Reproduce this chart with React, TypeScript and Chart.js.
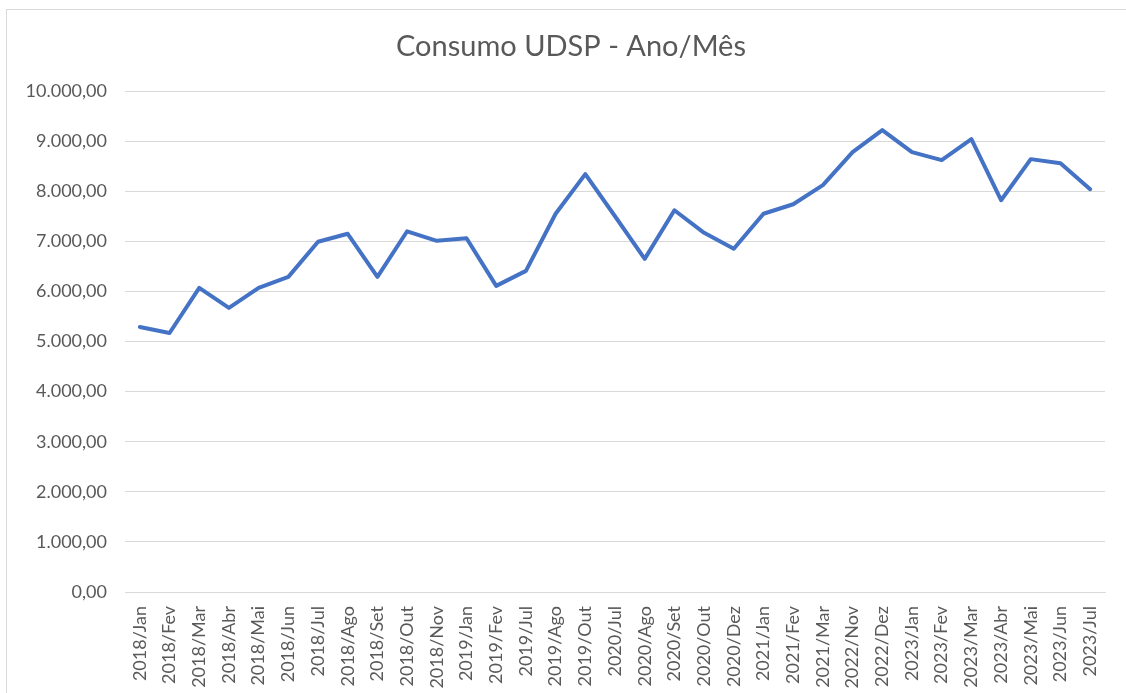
import { useEffect, useRef } from "react";
import { Chart, registerables } from "chart.js";

Chart.register(...registerables);

const categories = [
  "2018/Jan", "2018/Fev", "2018/Mar", "2018/Abr", "2018/Mai", "2018/Jun",
  "2018/Jul", "2018/Ago", "2018/Set", "2018/Out", "2018/Nov", "2019/Jan",
  "2019/Fev", "2019/Jul", "2019/Ago", "2019/Out", "2020/Jul", "2020/Ago",
  "2020/Set", "2020/Out", "2020/Dez", "2021/Jan", "2021/Fev", "2021/Mar",
  "2022/Nov", "2022/Dez", "2023/Jan", "2023/Fev", "2023/Mar", "2023/Abr",
  "2023/Mai", "2023/Jun", "2023/Jul",
];

const consumo = [
  5290, 5170, 6070, 5670, 6070, 6290,
  6990, 7150, 6290, 7200, 7010, 7060,
  6110, 6410, 7550, 8340, 7500, 6650,
  7620, 7170, 6850, 7550, 7740, 8120,
  8780, 9220, 8780, 8620, 9040, 7820,
  8640, 8560, 8040,
];

const yMin = 0;
const yMax = 10000;
const yStep = 1000;

const titleText = "Consumo UDSP - Ano/Mês";

function formatBR(v: number): string {
  const fixed = Math.abs(v).toFixed(2);
  const [intPart, dec] = fixed.split(".");
  const withDots = intPart.replace(/\B(?=(\d{3})+(?!\d))/g, ".");
  return (v < 0 ? "-" : "") + withDots + "," + dec;
}

const FONT = "Lato, 'Noto Sans', sans-serif";
const TEXT = "#595959";
const GRID = "#d9d9d9";

const titlePlugin = {
  id: "excelTitle",
  afterDraw(chart: any) {
    const ctx = chart.ctx;
    ctx.save();
    ctx.fillStyle = TEXT;
    ctx.font = `normal 29px ${FONT}`;
    ctx.textAlign = "center";
    ctx.textBaseline = "middle";
    ctx.fillText(titleText, 571, 47);
    ctx.restore();
  },
};

export default function App() {
  const ref = useRef<HTMLCanvasElement | null>(null);

  useEffect(() => {
    if (!ref.current) return;
    const chart = new Chart(ref.current, {
      type: "line",
      data: {
        labels: categories,
        datasets: [
          {
            label: "Consumo",
            data: consumo,
            borderColor: "#4472C4",
            backgroundColor: "#4472C4",
            borderWidth: 4,
            pointRadius: 0,
            pointHoverRadius: 0,
            tension: 0,
            borderJoinStyle: "round",
            borderCapStyle: "round",
          },
        ],
      },
      plugins: [titlePlugin],
      options: {
        responsive: false,
        animation: false,
        devicePixelRatio: 1,
        layout: { padding: { left: 0, right: 15, top: 91, bottom: 0 } },
        plugins: {
          legend: { display: false },
          tooltip: { enabled: false },
          title: { display: false },
        },
        scales: {
          x: {
            offset: true,
            grid: { display: false, drawTicks: false },
            border: { display: true, color: GRID, width: 1 },
            ticks: {
              color: TEXT,
              font: { family: FONT, size: 18 },
              minRotation: 90,
              maxRotation: 90,
              autoSkip: false,
              padding: 14,
            },
            afterFit: (scale: any) => {
              scale.height = 101;
            },
          },
          y: {
            min: yMin,
            max: yMax,
            grid: { color: GRID, lineWidth: 1, drawTicks: false },
            border: { display: false },
            ticks: {
              stepSize: yStep,
              color: TEXT,
              font: { family: FONT, size: 18 },
              padding: 18,
              callback: (v: any) => formatBR(Number(v)),
            },
            afterFit: (scale: any) => {
              scale.width = 125;
            },
          },
        },
      },
    });
    return () => chart.destroy();
  }, []);

  return (
    <div
      style={{
        position: "fixed",
        left: 0,
        top: 0,
        width: 1126,
        height: 693,
        overflow: "hidden",
        background: "#ffffff",
      }}
    >
      <div
        style={{
          position: "absolute",
          left: 6,
          top: 9,
          width: 1140,
          height: 720,
          border: "1px solid #d9d9d9",
          boxSizing: "border-box",
        }}
      />
      <canvas
        ref={ref}
        width={1126}
        height={693}
        style={{ position: "absolute", left: 0, top: 0, width: 1126, height: 693 }}
      />
    </div>
  );
}
